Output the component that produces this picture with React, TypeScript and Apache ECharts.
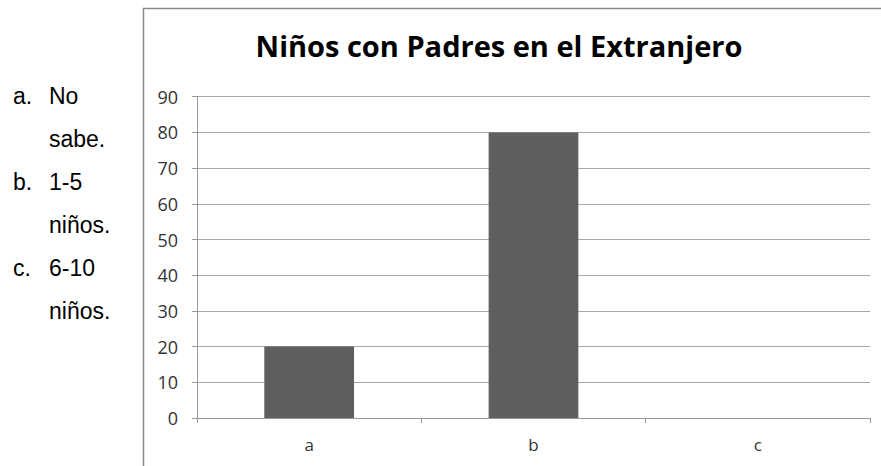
import React, { useEffect, useRef } from "react";
import * as echarts from "echarts";

const title = "Niños con Padres en el Extranjero";
const categories = ["a", "b", "c"];
const values = [20, 80, 0];
const yTicks = { min: 0, max: 90, interval: 10 };
const sideMarkers = ["a.", "", "b.", "", "c.", ""];
const sideTexts = ["No", "sabe.", "1-5", "niños.", "6-10", "niños."];

export default function App() {
  const ref = useRef<HTMLDivElement>(null);
  useEffect(() => {
    if (!ref.current) return;
    const chart = echarts.init(ref.current, null, { renderer: "svg" });
    const sideY = [96, 139, 182, 225, 268, 311];
    const sideStyle = {
      fontFamily: "Liberation Sans",
      fontSize: 23,
      fill: "#000",
      textVerticalAlign: "middle",
    };
    chart.setOption({
      animation: false,
      backgroundColor: "#ffffff",
      title: {
        text: title,
        left: 494,
        textAlign: "center",
        top: 26,
        textStyle: {
          fontFamily: "Open Sans",
          fontWeight: "bold",
          fontSize: 29,
          color: "#000",
        },
      },
      grid: { left: 197, right: 11, top: 96.7, bottom: 48, containLabel: false },
      xAxis: {
        type: "category",
        data: categories,
        axisLine: { lineStyle: { color: "#9a9a9a", width: 1 } },
        axisTick: { show: true, length: 5, lineStyle: { color: "#9a9a9a" } },
        axisLabel: { color: "#333", fontFamily: "Open Sans", fontSize: 17, margin: 18 },
      },
      yAxis: {
        type: "value",
        min: yTicks.min,
        max: yTicks.max,
        interval: yTicks.interval,
        axisLine: { show: true, lineStyle: { color: "#9a9a9a", width: 1 } },
        axisTick: { show: true, length: 5, lineStyle: { color: "#9a9a9a" } },
        axisLabel: { color: "#333", fontFamily: "Open Sans", fontSize: 18, margin: 19 },
        splitLine: { lineStyle: { color: "#a8a8a8", width: 1 } },
      },
      series: [
        {
          type: "bar",
          data: values,
          barWidth: "40%",
          itemStyle: { color: "#5f5f5f" },
        },
      ],
      graphic: [
        {
          type: "rect",
          shape: { x: 143.5, y: 8.5, width: 800, height: 500 },
          style: { fill: "none", stroke: "#8a8a8a", lineWidth: 1.5 },
          silent: true,
        },
        ...sideMarkers
          .map((t, i) => ({ t, i }))
          .filter((d) => d.t !== "")
          .map((d) => ({
            type: "text",
            x: 13,
            y: sideY[d.i],
            style: { ...sideStyle, text: d.t },
          })),
        ...sideTexts.map((t, i) => ({
          type: "text",
          x: 49,
          y: sideY[i],
          style: { ...sideStyle, text: t },
        })),
      ],
    });
    return () => chart.dispose();
  }, []);
  return (
    <div
      ref={ref}
      style={{ position: "absolute", left: 0, top: 0, width: 881, height: 466 }}
    />
  );
}
